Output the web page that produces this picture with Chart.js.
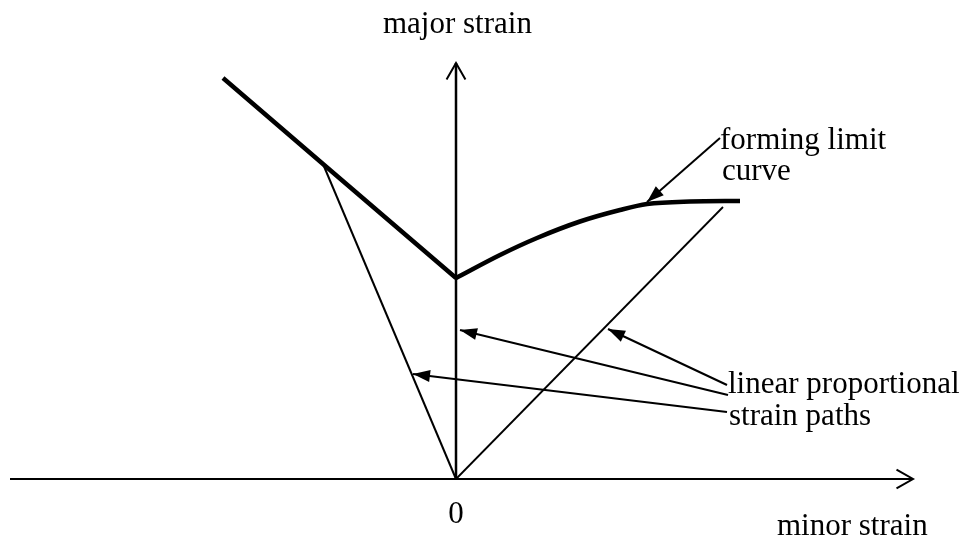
<!DOCTYPE html>
<html>
<head>
<meta charset="utf-8">
<script src="https://cdn.jsdelivr.net/npm/chart.js@4/dist/chart.umd.min.js"></script>
<style>
  body { margin: 0; background: #fff; }
  canvas { display: block; }
</style>
</head>
<body>
<canvas id="myChart" width="968" height="542"></canvas>
<script>
// data in arbitrary strain units, origin = (0, 0)
var flcLeft = [[-2.33, 4.01], [-1.33, 3.15], [0, 2.01]];
var flcRight = [[0, 2.01], [0.44, 2.24], [0.81, 2.41], [1.24, 2.575], [1.64, 2.69], [1.91, 2.75], [2.34, 2.775], [2.84, 2.78]];
var pathLeft = [[0, 0], [-1.33, 3.15]];
var pathRight = [[0, 0], [2.67, 2.72]];
var axisX = [[-4.46, 0], [4.57, 0]];
var axisY = [[0, 0], [0, 4.16]];

// annotation arrows: [from, to]
var arrowFlc = [[2.64, 3.41], [1.91, 2.77]];
var arrowAxis = [[2.72, 0.84], [0.04, 1.49]];
var arrowRight = [[2.71, 0.94], [1.52, 1.50]];
var arrowLeft = [[2.71, 0.67], [-0.43, 1.05]];

function pts(arr) {
    return arr.map(function (p) { return { x: p[0], y: p[1] }; });
}

function line(arr, width, head) {
    return {
        data: pts(arr),
        showLine: true,
        borderColor: '#000',
        borderWidth: width,
        pointRadius: 0,
        tension: 0,
        clip: false,
        head: head || null
    };
}

var curve = line(flcRight, 4.5);
curve.cubicInterpolationMode = 'monotone';

// arrow heads and text labels
var decor = {
    id: 'decor',
    afterDatasetsDraw: function (chart) {
        var c = chart.ctx;
        c.save();
        c.fillStyle = '#000';
        c.strokeStyle = '#000';
        chart.data.datasets.forEach(function (ds, i) {
            if (!ds.head) return;
            var m = chart.getDatasetMeta(i).data;
            var a = m[m.length - 2], b = m[m.length - 1];
            var ang = Math.atan2(b.y - a.y, b.x - a.x);
            if (ds.head === 'open') {
                var L = 19, w = 0.52;
                c.lineWidth = 2;
                c.beginPath();
                c.moveTo(b.x - L * Math.cos(ang - w), b.y - L * Math.sin(ang - w));
                c.lineTo(b.x, b.y);
                c.lineTo(b.x - L * Math.cos(ang + w), b.y - L * Math.sin(ang + w));
                c.stroke();
            } else {
                var L2 = 17, hw = 6;
                var bx = b.x - L2 * Math.cos(ang), by = b.y - L2 * Math.sin(ang);
                c.beginPath();
                c.moveTo(b.x, b.y);
                c.lineTo(bx + hw * Math.sin(ang), by - hw * Math.cos(ang));
                c.lineTo(bx - hw * Math.sin(ang), by + hw * Math.cos(ang));
                c.closePath();
                c.fill();
            }
        });
        c.font = '31px "Liberation Serif", "DejaVu Serif", serif';
        c.textBaseline = 'alphabetic';
        c.textAlign = 'left';
        c.fillText('major strain', 383, 33);
        c.fillText('forming limit', 720, 149);
        c.fillText('curve', 722, 180);
        c.fillText('linear proportional', 728, 393);
        c.fillText('strain paths', 729, 425);
        c.fillText('minor strain', 777, 535);
        c.textAlign = 'center';
        c.fillText('0', 456, 523);
        c.restore();
    }
};

var ctx = document.getElementById('myChart').getContext('2d');
var myChart = new Chart(ctx, {
    type: 'scatter',
    data: {
        datasets: [
            line(axisX, 2, 'open'),
            line(axisY, 2.5, 'open'),
            line(pathLeft, 2),
            line(pathRight, 1.8),
            line(flcLeft, 4.5),
            curve,
            line(arrowFlc, 2, 'filled'),
            line(arrowAxis, 2, 'filled'),
            line(arrowRight, 2, 'filled'),
            line(arrowLeft, 2, 'filled')
        ]
    },
    options: {
        responsive: false,
        animation: false,
        layout: { padding: 0 },
        plugins: { legend: { display: false }, tooltip: { enabled: false } },
        scales: {
            x: { type: 'linear', display: false, min: -4.56, max: 5.12 },
            y: { type: 'linear', display: false, min: -0.63, max: 4.79 }
        }
    },
    plugins: [decor]
});
</script>
</body>
</html>
